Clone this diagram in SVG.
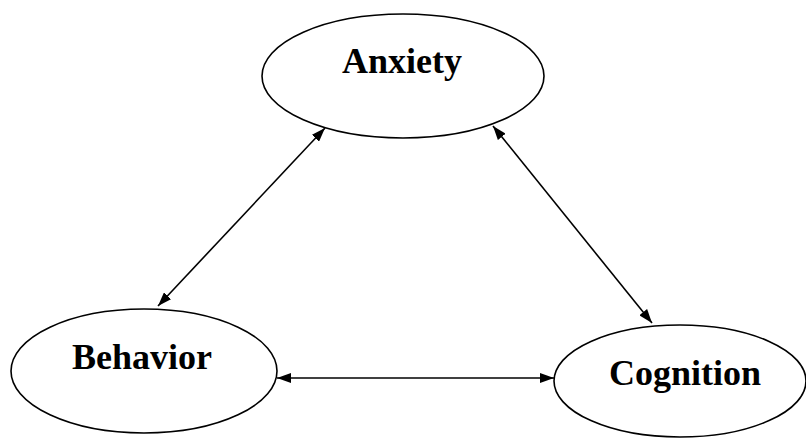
<svg xmlns="http://www.w3.org/2000/svg" width="806" height="439" viewBox="0 0 806 439">
<style>
.node ellipse{fill:#fff;stroke:#000;stroke-width:1.6}
.node text{font-family:"Liberation Serif","Times New Roman",serif;font-weight:bold;font-size:36px;fill:#000;text-anchor:middle}
.edges line{stroke:#000;stroke-width:1.6}
</style>
<defs>
<marker id="ah" viewBox="0 0 14 10" refX="14" refY="5" markerWidth="14" markerHeight="10" markerUnits="userSpaceOnUse" orient="auto-start-reverse">
<path d="M0,0 L14,5 L0,10 z" fill="#000"/>
</marker>
</defs>
<g id="anxiety" class="node">
<ellipse cx="403" cy="76" rx="141" ry="62"/>
<text x="402" y="73">Anxiety</text>
</g>
<g id="behavior" class="node">
<ellipse cx="144" cy="371" rx="133" ry="62"/>
<text x="142" y="369">Behavior</text>
</g>
<g id="cognition" class="node">
<ellipse cx="680" cy="381" rx="126" ry="56"/>
<text x="685" y="385">Cognition</text>
</g>
<g id="connectors" class="edges">
<line x1="325" y1="128" x2="158" y2="306" marker-start="url(#ah)" marker-end="url(#ah)"/>
<line x1="493" y1="126" x2="652" y2="323" marker-start="url(#ah)" marker-end="url(#ah)"/>
<line x1="277" y1="378" x2="554" y2="378" marker-start="url(#ah)" marker-end="url(#ah)"/>
</g>
</svg>
